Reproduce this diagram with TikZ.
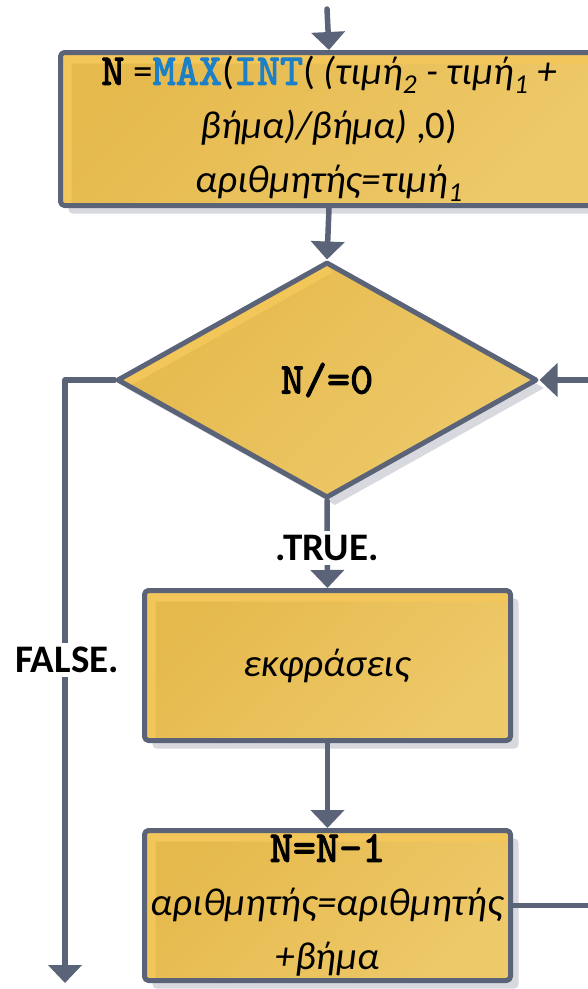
\documentclass[tikz,border=0pt]{standalone}
\usepackage{fontspec}
\setmainfont{Carlito}
\newfontfamily\kwfont{lmmono10-regular.otf}[FakeBold=2.5]
\usetikzlibrary{arrows.meta,shapes.geometric,shadows}
\definecolor{edgegray}{RGB}{91,99,120}
\definecolor{goldtop}{RGB}{229,185,76}
\definecolor{goldbot}{RGB}{238,201,106}
\definecolor{goldhi}{RGB}{243,198,90}
\definecolor{kwblue}{RGB}{28,128,200}
\definecolor{shadowgray}{RGB}{216,217,222}
\newcommand{\kw}[1]{{\fontsize{44}{54}\selectfont\kwfont #1}}
\begin{document}
\begin{tikzpicture}[x=1pt, y=-1pt, line join=round, line cap=round,
  font=\fontsize{39}{54}\selectfont,
  flow/.style={draw=edgegray, line width=5pt, shade, top color=goldtop, bottom color=goldbot, shading angle=45,
    drop shadow={shadow xshift=8pt, shadow yshift=-8pt, fill=shadowgray, opacity=1}, inner sep=0pt, align=center},
  stepbox/.style={flow, rectangle, rounded corners=4pt, minimum width=366pt, minimum height=150pt,
    path picture={\draw[goldhi, line width=22pt, line cap=butt] (path picture bounding box.south west)--(path picture bounding box.north west)--(path picture bounding box.north east);}},
  test/.style={flow, diamond, minimum width=420pt, minimum height=236pt,
    path picture={\draw[goldhi, line width=22pt, line cap=butt] (path picture bounding box.west)--(path picture bounding box.north);}},
  link/.style={draw=edgegray, line width=5.5pt, -{Triangle[width=33pt,length=18pt]}},
  tag/.style={font=\fontsize{39}{44}\selectfont\bfseries, fill=white, inner sep=4pt}]
\useasboundingbox (0,0) rectangle (587,989);
\node[stepbox, minimum width=537pt, minimum height=153pt] (init) at (329,129)
  {\kw{N} =\textcolor{kwblue}{\kw{MAX}}(\textcolor{kwblue}{\kw{INT}}( \textit{(τιμή\textsubscript{2} - τιμή\textsubscript{1} +}\\
   \textit{βήμα)/βήμα)} ,0)\\ \textit{αριθμητής=τιμή\textsubscript{1}}};
\node[test] (cond) at (327,380) {\kw{N/=0}};
\node[stepbox] (body) at (327.5,665.5) {\textit{εκφράσεις}};
\node[stepbox] (update) at (327.5,905.5) {\kw{N=N-1}\\ \textit{αριθμητής=αριθμητής}\\ \textit{+βήμα}};
\coordinate (entry) at (327,9);
\coordinate (loop) at (600,650);
\coordinate (exit) at (65,983);
\draw[link] (entry) -- (init.north);
\draw[link] (init.south) -- (cond.north);
\draw[link] (cond.south) -- (body.north);
\draw[link] (body.south) -- (update.north);
\draw[link] (update.east) -| (loop) |- (cond.east);
\draw[link] (cond.west) -| (exit);
\node[tag] (yes) at (327,548) {.TRUE.};
\node[tag] (no) at (67,660) {FALSE.};
\end{tikzpicture}
\end{document}
